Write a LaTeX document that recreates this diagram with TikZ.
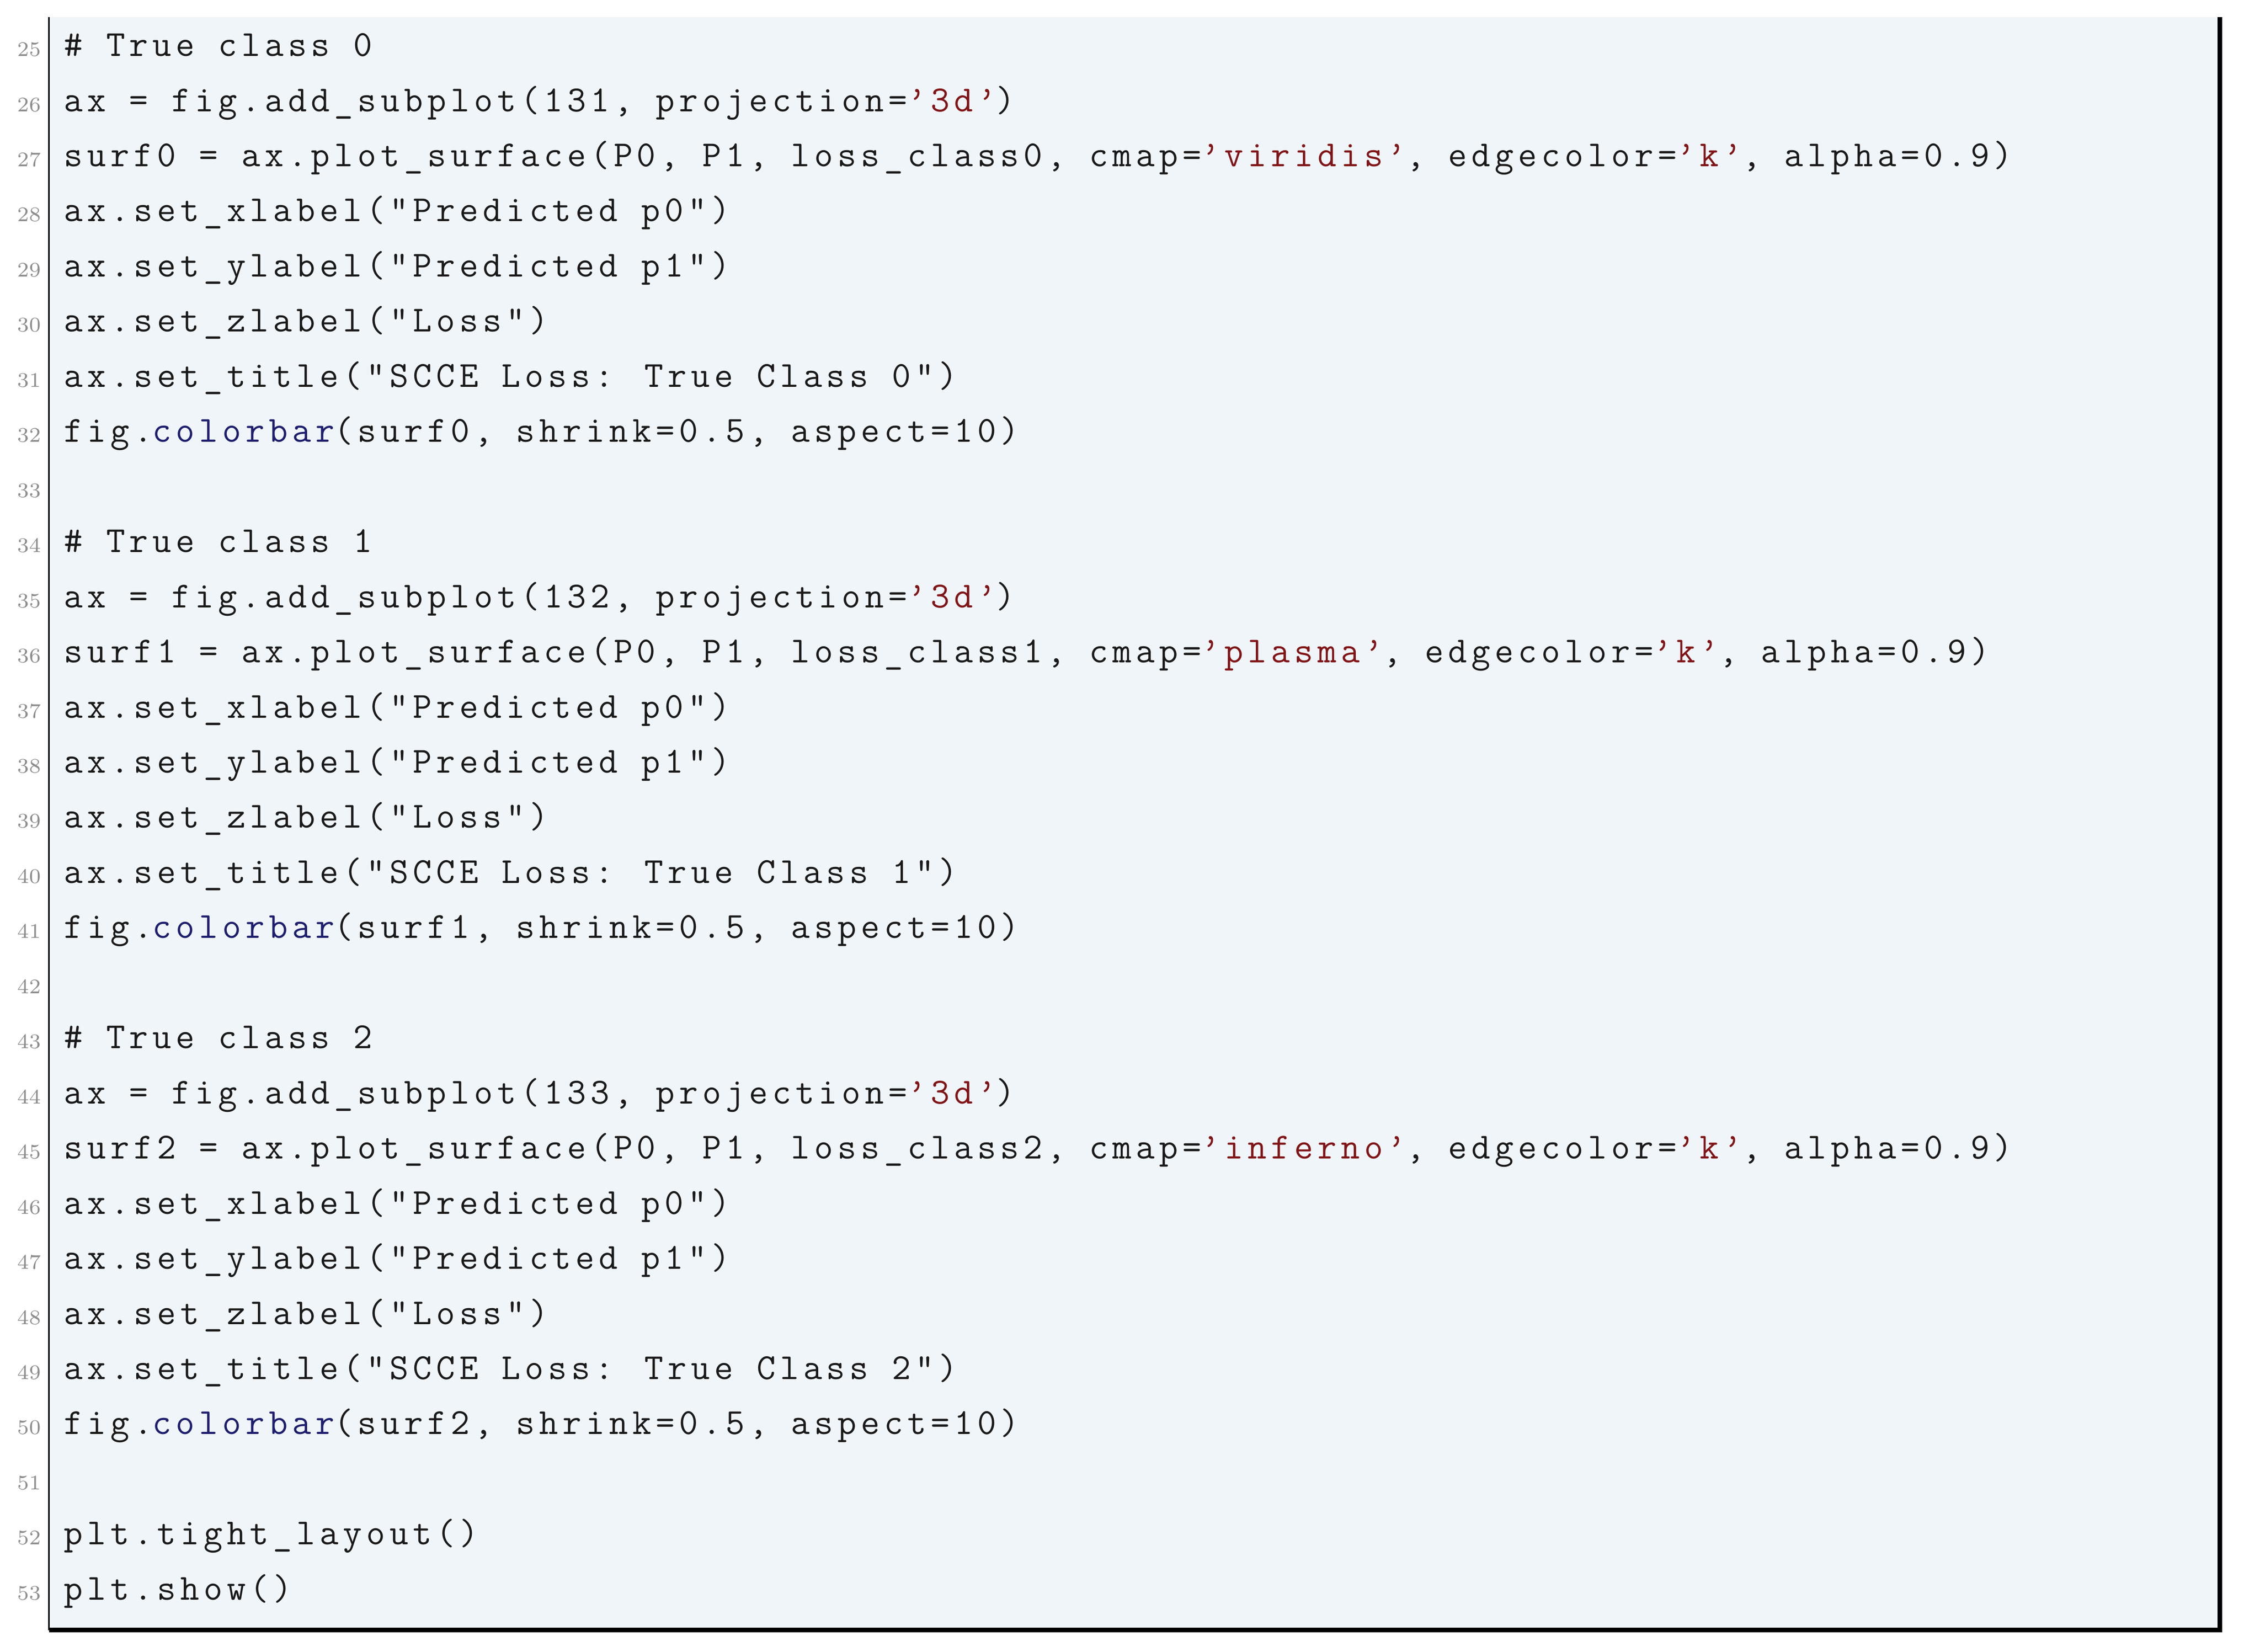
\documentclass[tikz,border=0pt]{standalone}
\usepackage{fontspec}
\newfontfamily\codefont{Latin Modern Mono}[LetterSpace=11.8]
\definecolor{codebg}{RGB}{240,245,250}
\definecolor{strred}{RGB}{128,20,22}
\definecolor{fnblue}{RGB}{30,30,110}
\definecolor{numgrey}{RGB}{140,140,140}
\newcommand{\str}[1]{\textcolor{strred}{’#1’}}
\newcommand{\fn}[1]{\textcolor{fnblue}{#1}}

\begin{document}
\begin{tikzpicture}[x=0.5pt,y=-0.5pt,
    codeline/.style={anchor=base west,inner sep=0pt,text=black!90,
      font=\fontsize{12.75}{15}\codefont},
    lineno/.style={anchor=base east,inner sep=0pt,text=numgrey,
      font=\fontsize{7.2}{8}\selectfont}]
        % page and listing box
        \useasboundingbox (0,0) rectangle (1568,1146);
        \fill[codebg] (34,12) rectangle (1540,1131);
        \draw[line width=0.5pt] (34,12) -- (34,1131);
        \draw[line width=1.6pt] (34,1131) -- (1540,1131) -- (1540,12);
        % line numbers
        \foreach \n in {25,...,53}
            \node[lineno] (n\n) at (29,{39+(\n-25)*38.25}) {\n};
        % code
        \node[codeline] (l25) at (44,{39+0*38.25}) {\# True class 0};
        \node[codeline] (l26) at (44,{39+1*38.25}) {ax = fig.add\_subplot(131, projection=\str{3d})};
        \node[codeline] (l27) at (44,{39+2*38.25}) {surf0 = ax.plot\_surface(P0, P1, loss\_class0, cmap=\str{viridis}, edgecolor=\str{k}, alpha=0.9)};
        \node[codeline] (l28) at (44,{39+3*38.25}) {ax.set\_xlabel("Predicted p0")};
        \node[codeline] (l29) at (44,{39+4*38.25}) {ax.set\_ylabel("Predicted p1")};
        \node[codeline] (l30) at (44,{39+5*38.25}) {ax.set\_zlabel("Loss")};
        \node[codeline] (l31) at (44,{39+6*38.25}) {ax.set\_title("SCCE Loss: True Class 0")};
        \node[codeline] (l32) at (44,{39+7*38.25}) {fig.\fn{colorbar}(surf0, shrink=0.5, aspect=10)};
        \node[codeline] (l34) at (44,{39+9*38.25}) {\# True class 1};
        \node[codeline] (l35) at (44,{39+10*38.25}) {ax = fig.add\_subplot(132, projection=\str{3d})};
        \node[codeline] (l36) at (44,{39+11*38.25}) {surf1 = ax.plot\_surface(P0, P1, loss\_class1, cmap=\str{plasma}, edgecolor=\str{k}, alpha=0.9)};
        \node[codeline] (l37) at (44,{39+12*38.25}) {ax.set\_xlabel("Predicted p0")};
        \node[codeline] (l38) at (44,{39+13*38.25}) {ax.set\_ylabel("Predicted p1")};
        \node[codeline] (l39) at (44,{39+14*38.25}) {ax.set\_zlabel("Loss")};
        \node[codeline] (l40) at (44,{39+15*38.25}) {ax.set\_title("SCCE Loss: True Class 1")};
        \node[codeline] (l41) at (44,{39+16*38.25}) {fig.\fn{colorbar}(surf1, shrink=0.5, aspect=10)};
        \node[codeline] (l43) at (44,{39+18*38.25}) {\# True class 2};
        \node[codeline] (l44) at (44,{39+19*38.25}) {ax = fig.add\_subplot(133, projection=\str{3d})};
        \node[codeline] (l45) at (44,{39+20*38.25}) {surf2 = ax.plot\_surface(P0, P1, loss\_class2, cmap=\str{inferno}, edgecolor=\str{k}, alpha=0.9)};
        \node[codeline] (l46) at (44,{39+21*38.25}) {ax.set\_xlabel("Predicted p0")};
        \node[codeline] (l47) at (44,{39+22*38.25}) {ax.set\_ylabel("Predicted p1")};
        \node[codeline] (l48) at (44,{39+23*38.25}) {ax.set\_zlabel("Loss")};
        \node[codeline] (l49) at (44,{39+24*38.25}) {ax.set\_title("SCCE Loss: True Class 2")};
        \node[codeline] (l50) at (44,{39+25*38.25}) {fig.\fn{colorbar}(surf2, shrink=0.5, aspect=10)};
        \node[codeline] (l52) at (44,{39+27*38.25}) {plt.tight\_layout()};
        \node[codeline] (l53) at (44,{39+28*38.25}) {plt.show()};
    \end{tikzpicture}
\end{document}
